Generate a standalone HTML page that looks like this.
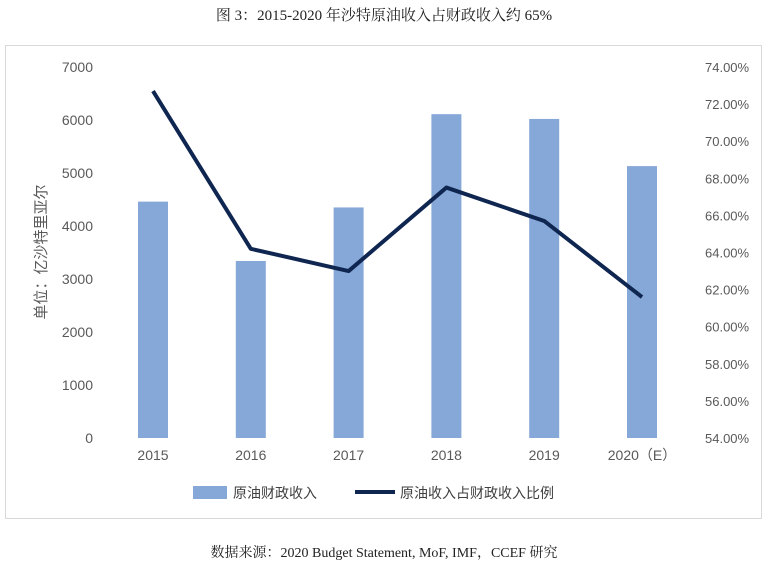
<!DOCTYPE html>
<html><head><meta charset="utf-8"><style>
body{margin:0;background:#fff;width:769px;height:568px;overflow:hidden;font-family:"Liberation Sans","Noto Sans CJK SC",sans-serif}
</style></head><body>
<svg width="769" height="568" style="font-family:'Liberation Sans','Noto Sans CJK SC',sans-serif">
<text x="384" y="20" text-anchor="middle" font-size="15" fill="#222" style="font-family:'Liberation Serif','Noto Serif CJK SC',serif">图 3：2015-2020 年沙特原油收入占财政收入约 65%</text>
<rect x="5.5" y="45.5" width="756" height="473" fill="#fff" stroke="#d9d9d9"/>
<g id="leftTicks"></g><g id="rightTicks"></g><g id="bars"></g><g id="xlabels"></g><g id="line"></g>
<text transform="translate(46,252) rotate(-90)" text-anchor="middle" font-size="15" fill="#595959">单位：亿沙特里亚尔</text>
<rect x="193" y="486" width="34" height="13" fill="#86a8d9"/>
<text x="233" y="498" font-size="14" fill="#404040">原油财政收入</text>
<line x1="355" y1="492" x2="395" y2="492" stroke="#0f2650" stroke-width="4"/>
<text x="400" y="498" font-size="14" fill="#404040">原油收入占财政收入比例</text>
<text x="384" y="557" text-anchor="middle" font-size="14" fill="#222" style="font-family:'Liberation Serif','Noto Serif CJK SC',serif">数据来源：2020 Budget Statement, MoF, IMF，CCEF 研究</text>
</svg>
<script>
const categories=["2015","2016","2017","2018","2019","2020（E）"];
const revenue=[4460,3340,4350,6110,6020,5130];
const share=[72.7,64.2,63.0,67.5,65.7,61.6];
const leftTickLabels=[0,1000,2000,3000,4000,5000,6000,7000];
const rightTickLabels=[54,56,58,60,62,64,66,68,70,72,74];
const NS="http://www.w3.org/2000/svg";
const plotTop=67,plotBottom=438;
const yL=v=>plotBottom-(v/7000)*(plotBottom-plotTop);
const yR=v=>plotBottom-((v-54)/20)*(plotBottom-plotTop);
const xC=i=>153+i*97.8;
function mk(tag,attrs,parent,text){const e=document.createElementNS(NS,tag);for(const k in attrs)e.setAttribute(k,attrs[k]);if(text!==undefined)e.textContent=text;document.getElementById(parent).appendChild(e);return e;}
leftTickLabels.forEach(v=>{const t=mk('text',{x:93,y:yL(v)+5,'text-anchor':'end','font-size':14,fill:'#595959'},'leftTicks',String(v));

});
rightTickLabels.forEach(v=>{const t=mk('text',{x:705,y:yR(v)+5,'font-size':13,fill:'#595959'},'rightTicks',v.toFixed(2)+'%');

});
revenue.forEach((v,i)=>{const r=mk('rect',{x:xC(i)-15,y:yL(v),width:30,height:plotBottom-yL(v),fill:'#86a8d9'},'bars');

});
categories.forEach((c,i)=>{const t=mk('text',{x:xC(i),y:460,'text-anchor':'middle','font-size':14,fill:'#595959'},'xlabels',c);

});
const p=mk('polyline',{points:share.map((v,i)=>xC(i)+','+yR(v)).join(' '),fill:'none',stroke:'#0f2650','stroke-width':4,'stroke-linejoin':'round'},'line');


</script>
</body></html>
